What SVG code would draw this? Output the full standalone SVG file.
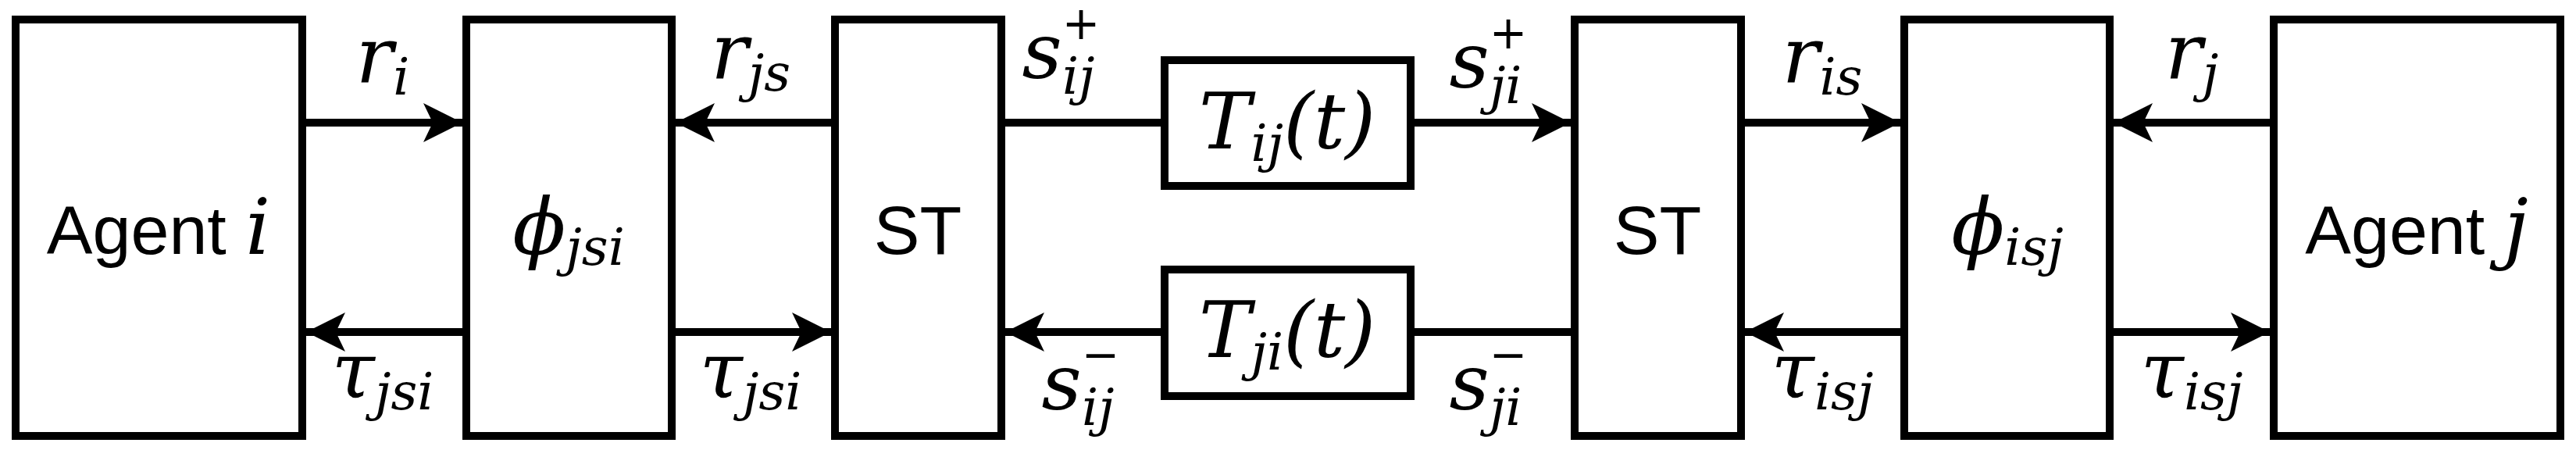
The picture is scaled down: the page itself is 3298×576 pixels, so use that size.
<svg xmlns="http://www.w3.org/2000/svg" width="3298" height="576" viewBox="0 0 3298 576">
<style>
.b{fill:#fff;stroke:#000;stroke-width:10}
.c line{stroke:#000;stroke-width:10}
.t{font-family:"Liberation Sans",Arial,sans-serif;font-size:88px;text-anchor:middle}
.m{font-family:"DejaVu Serif","Liberation Serif",serif;font-style:italic;font-size:100px;text-anchor:middle}
.s{font-size:66px}
.u{font-family:"DejaVu Sans","Liberation Sans",sans-serif;font-size:58px;text-anchor:middle}
</style>
<defs>
<marker id="a" viewBox="0 0 50 50" refX="50" refY="25" markerWidth="50" markerHeight="50" markerUnits="userSpaceOnUse" orient="auto">
<path d="M0,0 L50,25 L0,50 L12,25 Z" fill="#000"/>
</marker>
</defs>
<g id="agent-i"><rect class="b" x="20" y="25" width="367" height="533"/><text class="t" x="203" y="325">Agent <tspan class="m" style="text-anchor:start">i</tspan></text></g>
<g id="phi-jsi"><rect class="b" x="597" y="25" width="263" height="533"/><text class="m" x="728" y="325">ϕ<tspan class="s" dy="14">jsi</tspan></text></g>
<g id="st-1"><rect class="b" x="1069" y="25" width="213" height="533"/><text class="t" x="1175" y="325">ST</text></g>
<g id="t-ij"><rect class="b" x="1491" y="77" width="315" height="161"/><text class="m" x="1648" y="190">T<tspan class="s" dy="16">ij</tspan><tspan dy="-16">(t)</tspan></text></g>
<g id="t-ji"><rect class="b" x="1491" y="345" width="315" height="162"/><text class="m" x="1648" y="457">T<tspan class="s" dy="16">ji</tspan><tspan dy="-16">(t)</tspan></text></g>
<g id="st-2"><rect class="b" x="2016" y="25" width="213" height="533"/><text class="t" x="2122" y="325">ST</text></g>
<g id="phi-isj"><rect class="b" x="2438" y="25" width="263" height="533"/><text class="m" x="2570" y="325">ϕ<tspan class="s" dy="14">isj</tspan></text></g>
<g id="agent-j"><rect class="b" x="2911" y="25" width="367" height="533"/><text class="t" x="3094" y="325">Agent <tspan class="m" style="text-anchor:start">j</tspan></text></g>
<g class="c" id="connectors">
<line x1="387" y1="157" x2="592" y2="157" marker-end="url(#a)"/>
<line x1="1069" y1="157" x2="865" y2="157" marker-end="url(#a)"/>
<line x1="1282" y1="157" x2="1491" y2="157"/>
<line x1="1806" y1="157" x2="2011" y2="157" marker-end="url(#a)"/>
<line x1="2229" y1="157" x2="2433" y2="157" marker-end="url(#a)"/>
<line x1="2911" y1="157" x2="2706" y2="157" marker-end="url(#a)"/>
<line x1="597" y1="425" x2="392" y2="425" marker-end="url(#a)"/>
<line x1="860" y1="425" x2="1064" y2="425" marker-end="url(#a)"/>
<line x1="1491" y1="425" x2="1287" y2="425" marker-end="url(#a)"/>
<line x1="2016" y1="425" x2="1806" y2="425"/>
<line x1="2438" y1="425" x2="2234" y2="425" marker-end="url(#a)"/>
<line x1="2701" y1="425" x2="2906" y2="425" marker-end="url(#a)"/>
</g>
<g id="labels">
<text class="m" x="490" y="105">r<tspan class="s" dy="16">i</tspan></text>
<text class="m" x="961" y="100">r<tspan class="s" dy="16">js</tspan></text>
<text class="m" x="490" y="508">τ<tspan class="s" dy="16">jsi</tspan></text>
<text class="m" x="961" y="508">τ<tspan class="s" dy="16">jsi</tspan></text>
<text class="m" x="1355" y="100">s<tspan class="s" dy="20">ij</tspan></text><text class="u" x="1384" y="50">+</text>
<text class="m" x="1902" y="112">s<tspan class="s" dy="20">ji</tspan></text><text class="u" x="1931" y="62">+</text>
<text class="m" x="1380" y="524">s<tspan class="s" dy="20">ij</tspan></text><text class="u" x="1409" y="474">−</text>
<text class="m" x="1902" y="524">s<tspan class="s" dy="20">ji</tspan></text><text class="u" x="1931" y="474">−</text>
<text class="m" x="2333" y="105">r<tspan class="s" dy="16">is</tspan></text>
<text class="m" x="2806" y="100">r<tspan class="s" dy="16">j</tspan></text>
<text class="m" x="2333" y="508">τ<tspan class="s" dy="16">isj</tspan></text>
<text class="m" x="2806" y="508">τ<tspan class="s" dy="16">isj</tspan></text>
</g>
</svg>
